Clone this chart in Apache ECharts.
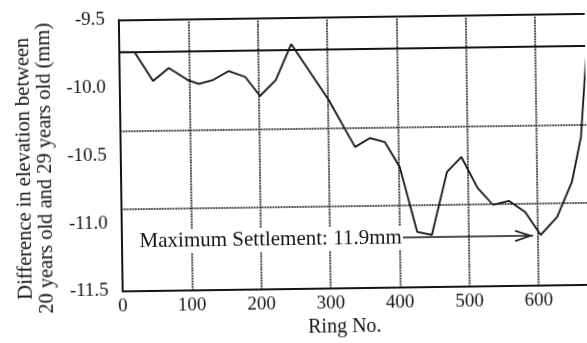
<!DOCTYPE html>
<html>
<head>
<meta charset="utf-8">
<script src="https://cdn.jsdelivr.net/npm/echarts@6/dist/echarts.min.js"></script>
<style>
html,body{margin:0;padding:0;background:#fff;overflow:hidden;}
#chart{width:587px;height:343px;transform:rotate(-0.8deg);transform-origin:50% 50%;}
</style>
</head>
<body>
<div id="chart"></div>
<script>
// Ring numbers and elevation differences (mm)
const ringNo   = [0, 22, 48, 71, 98, 114, 135, 157, 181, 202, 225, 248, 301, 338, 360, 381, 402, 426, 447, 470, 491, 514, 536, 559, 582, 604, 628, 650, 664, 670, 675];
const elevDiff = [-9.737, -9.740, -9.954, -9.860, -9.951, -9.981, -9.953, -9.889, -9.934, -10.076, -9.960, -9.696, -10.113, -10.463, -10.398, -10.429, -10.615, -11.097, -11.121, -10.657, -10.547, -10.778, -10.905, -10.877, -10.960, -11.132, -11.001, -10.744, -10.412, -10.014, -9.720];

const xTickLabels = ['0', '100', '200', '300', '400', '500', '600', '700'];
const yTickLabels = ['-11.5', '-11.0', '-10.5', '-10.0', '-9.5'];

const refSolidLine = [-9.736];
const refDottedLines = [-10.316, -10.903];
const arrowStart = [405, -11.136];
const arrowEnd = [593, -11.136];
const annotationText = 'Maximum Settlement: 11.9mm';

const FONT = 'Liberation Serif';
const INK = '#141414';

const chart = echarts.init(document.getElementById('chart'), null, {renderer: 'canvas'});

const chevron = 'path://M5,0L5.01,0L5,0.01Z M0,20L5,10L10,20L8.6,20L5,12.8L1.4,20Z';

const markData = [];
refSolidLine.forEach(v => markData.push({yAxis: v, lineStyle: {type: 'solid', width: 1.8, color: INK}}));
refDottedLines.forEach(v => markData.push({yAxis: v, lineStyle: {type: [1.5, 1.2], width: 1.8, color: '#1c1c1c'}}));
markData.push([
  {
    coord: arrowStart,
    symbol: 'none',
    lineStyle: {type: 'solid', width: 1.6, color: INK},
    label: {
      show: true,
      position: 'start',
      formatter: annotationText,
      fontFamily: FONT,
      fontSize: 21,
      color: INK,
      backgroundColor: '#fff',
      padding: [2, 1, 1, 2],
      distance: 0
    }
  },
  {coord: arrowEnd, symbol: chevron, symbolSize: [12, 36]}
]);

const option = {
  animation: false,
  backgroundColor: '#fff',
  grid: {left: 121, top: 17.5, width: 485.4, height: 270.8, outerBoundsMode: 'none', containLabel: false},
  xAxis: [
    {
      type: 'value', min: 0, max: 700, interval: 100, position: 'bottom',
      name: 'Ring No.', nameLocation: 'middle', nameGap: 22,
      nameTextStyle: {fontFamily: FONT, fontSize: 20, color: INK, padding: [0, 42, 0, 0]},
      axisLine: {show: true, onZero: false, lineStyle: {color: INK, width: 2}},
      axisTick: {show: false},
      axisLabel: {margin: 6, fontFamily: FONT, fontSize: 19, color: INK,
        formatter: (v, i) => xTickLabels[i]},
      splitLine: {show: true, lineStyle: {type: [1.5, 1.2], width: 2, color: '#1c1c1c'}}
    },
    {
      type: 'value', min: 0, max: 700, interval: 100, position: 'top',
      axisLine: {show: true, onZero: false, lineStyle: {color: INK, width: 2}},
      axisTick: {show: false}, axisLabel: {show: false}, splitLine: {show: false}
    }
  ],
  yAxis: {
    type: 'value', min: -11.5, max: -9.5, interval: 0.5,
    name: 'Difference in elevation between\n20 years old and 29 years old (mm)',
    nameLocation: 'middle', nameRotate: 90, nameGap: 63.5,
    nameTextStyle: {fontFamily: FONT, fontSize: 20.5, lineHeight: 21, color: INK, padding: [0, 24, 0, 0]},
    axisLine: {show: true, onZero: false, lineStyle: {color: INK, width: 2}},
    axisTick: {show: false},
    axisLabel: {margin: 14, fontFamily: FONT, fontSize: 19, color: INK,
      formatter: (v, i) => yTickLabels[i]},
    splitLine: {show: false}
  },
  series: [{
    type: 'line',
    xAxisIndex: 0,
    data: ringNo.map((r, i) => [r, elevDiff[i]]),
    symbol: 'none',
    lineStyle: {color: INK, width: 1.8},
    clip: true,
    markLine: {
      silent: true,
      symbol: ['none', 'none'],
      label: {show: false},
      emphasis: {disabled: true},
      data: markData
    }
  }]
};
chart.setOption(option);
</script>
</body>
</html>
